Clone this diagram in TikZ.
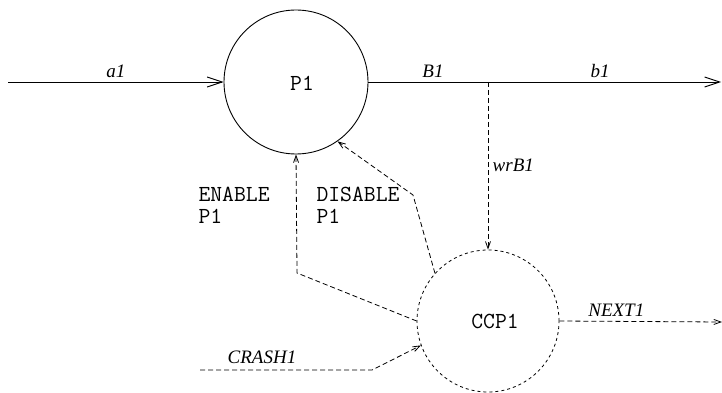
\documentclass[tikz,border=0pt]{standalone}
\usepackage{fontspec}
\setmainfont{Liberation Serif}
\usetikzlibrary{arrows.meta,positioning}

\begin{document}
\begin{tikzpicture}[
    x=1pt, y=-1pt,
    >={Straight Barb[length=15pt,width=10pt]},
    proc/.style={circle, draw, line width=0.9pt, minimum size=144pt, inner sep=0pt},
    ctrl/.style={circle, draw, dashed, line width=0.8pt, minimum size=142pt, inner sep=0pt},
    arr/.style={->, line width=0.9pt},
    darr/.style={-{Straight Barb[length=7pt,width=5pt]}, dash pattern=on 5pt off 3pt, line width=0.8pt},
    lbl/.style={font=\fontsize{19}{22}\selectfont\itshape},
    mono/.style={font=\fontsize{23}{22}\selectfont\ttfamily, align=left}
]
\useasboundingbox (0,0) rectangle (722,393);

% Process and its controller
\node[proc] (p1)   at (296,82)  {};
\node[mono] (p1t)  at (302,83)  {P1};
\node[ctrl] (ccp1) at (488,321) {};
\node[mono] (ccpt) at (495,321) {CCP1};

% Free ends of the data flows
\coordinate (in)    at (8,82);
\coordinate (out)   at (721,82);
\coordinate (tap)   at (488,82);
\coordinate (crash) at (200,370);
\coordinate (next)  at (722,322);

% Data flow through P1
\draw[arr] (in) -- (p1.west) node[lbl, midway, above=1pt] {a1};
\draw[arr] (p1.east) -- (out);
\node[lbl] (bB) at (433,71) {B1};
\node[lbl] (bb) at (600,71) {b1};

% Control signals
\draw[darr] (tap) -- (ccp1.north) node[lbl, pos=0.5, right=1pt] {wrB1};
\draw[darr] (ccp1.180) -- (297,273) -- (p1.south);
\draw[darr] (ccp1.138) -- (413,195) -- (p1.-55);
\node[mono, anchor=north west] (en)  at (195,184) {ENABLE\\P1};
\node[mono, anchor=north west] (dis) at (313,184) {DISABLE\\P1};

\draw[darr] (crash) -- (372,370) -- (ccp1.200);
\node[lbl] (cr) at (262,357) {CRASH1};
\draw[darr] (ccp1.east) -- (next) node[lbl, pos=0.35, above=1pt] {NEXT1};
\end{tikzpicture}
\end{document}
